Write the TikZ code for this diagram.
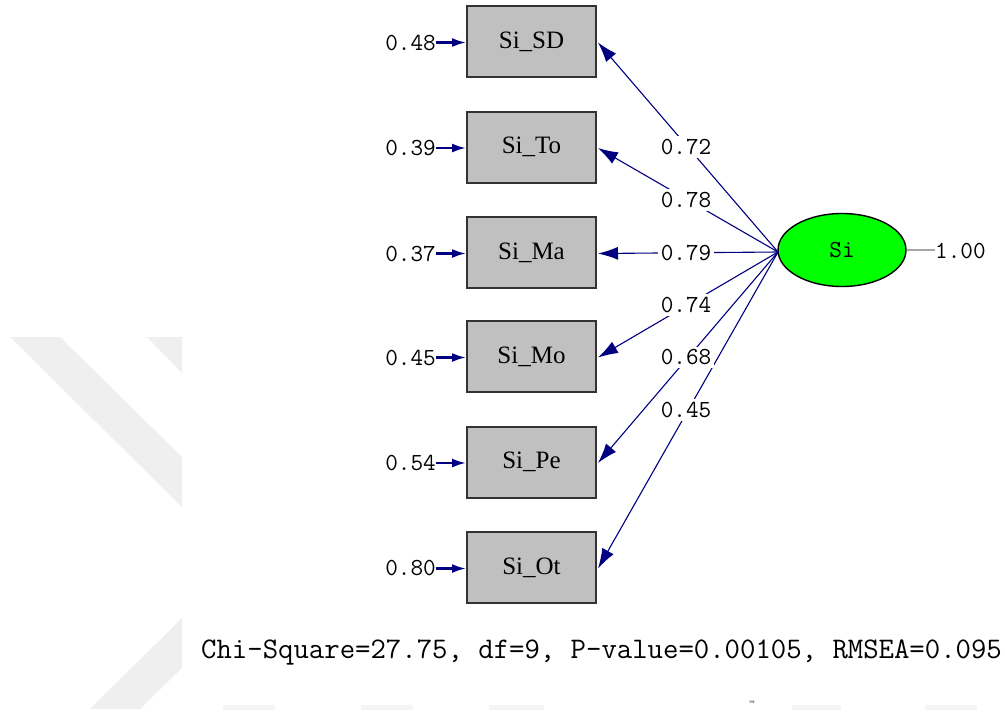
\documentclass[tikz,border=0pt]{standalone}
\usepackage{fontspec}
\setmainfont{Liberation Serif}
\newfontfamily\symfont{DejaVu Sans}
\usetikzlibrary{arrows.meta,shapes.geometric,calc}
\definecolor{pathblue}{HTML}{000080}
\definecolor{boxgray}{HTML}{C0C0C0}
\definecolor{wmgray}{HTML}{EFEFEF}
\definecolor{wmbar}{HTML}{F5F5F5}
\definecolor{latgreen}{HTML}{00FF00}
\begin{document}
\begin{tikzpicture}[x=1pt,y=-1pt,
  obsbox/.style={draw=black!80, line width=2pt, fill=boxgray, minimum width=129pt, minimum height=71pt, inner sep=0pt, font=\fontsize{25}{28}\selectfont},
  latent/.style={ellipse, draw=black, line width=1.4pt, fill=latgreen, minimum width=128pt, minimum height=73pt, inner sep=0pt, font=\ttfamily\fontsize{24.5}{28}\selectfont},
  numlab/.style={font=\ttfamily\fontsize{24.5}{28}\selectfont, inner sep=0pt},
  coef/.style={numlab, fill=white, inner sep=3pt},
  loading/.style={draw=pathblue, line width=1.1pt, -{Latex[length=20pt,width=13pt]}},
  errarrow/.style={draw=pathblue, line width=2.2pt, -{Latex[length=14pt,width=9pt]}},
  fitline/.style={font=\ttfamily\fontsize{29.9}{34}\selectfont, inner sep=0pt},
]
\useasboundingbox (0,0) rectangle (1005,713);
% faint watermark
\fill[wmgray] (10,337) -- (60,337) -- (182,457) -- (182,507) -- cycle;
\fill[wmgray] (147,337) -- (182,337) -- (182,373) -- cycle;
\fill[wmgray] (90,709) -- (140,709) -- (182,668) -- (182,618) -- cycle;
\foreach \a/\b in {223/275, 361/413, 489/544, 792/841, 925/977}
  \fill[wmbar] (\a,705) rectangle (\b,710);
\node[font=\symfont\fontsize{7}{8}\selectfont, text=black!60, inner sep=0pt] (glyph) at (752,703) {⇛};

% observed variables
\node[obsbox] (SD) at (531.5,41.5) {Si\_SD};
\node[obsbox] (To) at (531.5,147) {Si\_To};
\node[obsbox] (Ma) at (531.5,252.5) {Si\_Ma};
\node[obsbox] (Mo) at (531.5,356.5) {Si\_Mo};
\node[obsbox] (Pe) at (531.5,462) {Si\_Pe};
\node[obsbox] (Ot) at (531.5,567.5) {Si\_Ot};

% latent variable
\node[latent] (Si) at (842,250) {Si};
\coordinate (src) at (778,252);

% error variances
\foreach \n/\v in {SD/0.48, To/0.39, Ma/0.37, Mo/0.45, Pe/0.54, Ot/0.80}{
  \node[numlab, anchor=east] (e\n) at ($(\n.west)+(-30,1)$) {\v};
  \draw[errarrow] (e\n.east) -- ($(\n.west)+(0,1)$);
}

% loadings
\foreach \n in {SD,To,Ma,Mo,Pe,Ot}
  \draw[loading] (src) -- ($(\n.east)+(1,1)$);
\foreach \n/\v in {SD/0.72, To/0.78, Ma/0.79, Mo/0.74, Pe/0.68, Ot/0.45}
  \node[coef] (c\n) at ($(src)!0.5!($(\n.east)+(1,1)$)+(-2,0)$) {\v};

% latent variance
\node[numlab, anchor=west] (var) at (935,251) {1.00};
\draw[black!35, line width=1.2pt] (Si.east) -- (Si.east -| var.west);

% fit statistics
\node[fitline, anchor=west] (fit) at (201,652) {Chi-Square=27.75, df=9, P-value=0.00105, RMSEA=0.095};
\end{tikzpicture}
\end{document}
